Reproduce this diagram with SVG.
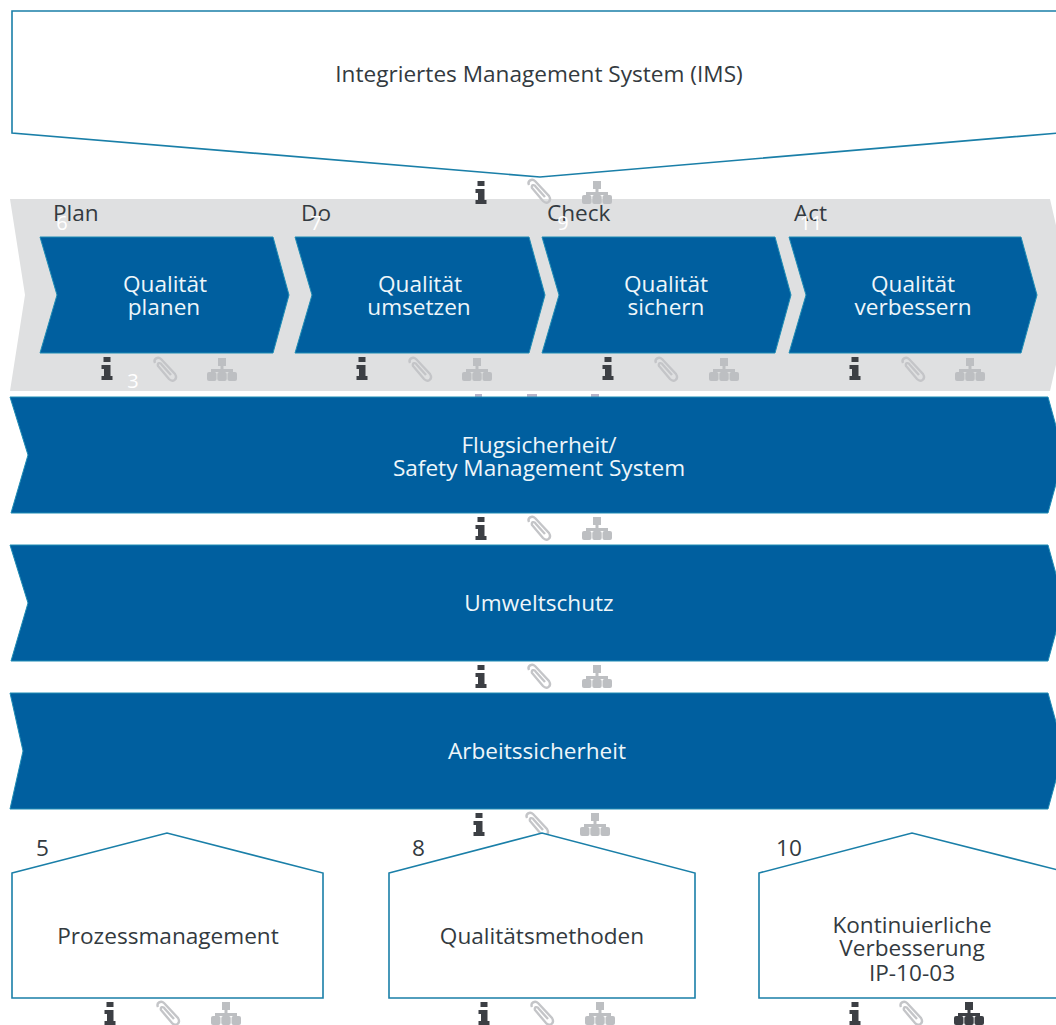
<svg xmlns="http://www.w3.org/2000/svg" width="1056" height="1025" viewBox="0 0 1056 1025">
<style>
text{font-family:"Open Sans","Noto Sans","Liberation Sans",sans-serif;font-size:22.6px;text-anchor:middle}
.d{fill:#333a40}.w{fill:#eef6fa}.n{fill:#fff;font-size:20px}.l{text-anchor:start}
.blue{fill:#005f9f;stroke:#1f8cb4;stroke-width:1}
.house{fill:#fff;stroke:#1a7fa8;stroke-width:1.6}
.off{fill:#bdbfc2}.on{fill:#3c3f44}.peek{fill:#b9b4c9}
</style>
<defs>
<g id="ii"><rect x="-3.500" y="0" width="7" height="5" class="on"/><path d="M-5.500 8H3.500V19H5.500V23H-5.500V19H-3V12H-5.500Z" class="on"/></g>
<g id="ic"><path d="M-10 5C-12 1-7-2-4 1L10 16C13 21 8 25 4 21L-7 8C-8 5-5 4-3 7L6 17" fill="none" stroke="#c4c5c8" stroke-width="2.400"/></g>
<g id="io"><g class="off"><rect x="-4" y="0" width="8" height="8"/><rect x="-1.500" y="8" width="3" height="6"/><rect x="-11" y="11" width="22" height="3"/><rect x="-15" y="14" width="9.500" height="9" rx="2"/><rect x="-4.700" y="14" width="9.400" height="9" rx="2"/><rect x="5.500" y="14" width="9.500" height="9" rx="2"/></g></g>
<g id="iod"><g class="on"><rect x="-4" y="0" width="8" height="8"/><rect x="-1.500" y="8" width="3" height="6"/><rect x="-11" y="11" width="22" height="3"/><rect x="-15" y="14" width="9.500" height="9" rx="2"/><rect x="-4.700" y="14" width="9.400" height="9" rx="2"/><rect x="5.500" y="14" width="9.500" height="9" rx="2"/></g></g>
</defs>
<rect width="1056" height="1025" fill="#fff"/>
<g id="connectors"></g>
<g id="pdca">
<path d="M10 199H1050L1072 295L1050 391H10L25 295Z" fill="#dfe0e1"/>
</g>
<g id="ims">
<path d="M12 11H1070V132L540 177L12 133Z" class="house"/>
<text x="539" y="82" class="d">Integriertes Management System (IMS)</text>
<use href="#ii" x="481" y="181"/><use href="#ic" x="539" y="180"/><use href="#io" x="597" y="181"/>
</g>
<g id="pdca-labels">
<text x="53" y="221" class="d l">Plan</text><text x="301" y="221" class="d l">Do</text><text x="547" y="221" class="d l">Check</text><text x="794" y="221" class="d l">Act</text>
<text x="62" y="230" class="n">6</text><text x="316" y="230" class="n">7</text><text x="563" y="230" class="n">9</text><text x="811" y="230" class="n">11</text><text x="133" y="388" class="n">3</text>
</g>
<g id="plan"><path d="M40 237H273L289 295L273 353H40L57 295Z" class="blue"/><text class="w" x="165" y="292">Qualität</text><text class="w" x="164" y="315">planen</text>
<use href="#ii" x="107" y="357"/><use href="#ic" x="165" y="358"/><use href="#io" x="222" y="358"/></g>
<g id="do"><path d="M295 237H529L545 295L529 353H295L312 295Z" class="blue"/><text class="w" x="420" y="292">Qualität</text><text class="w" x="419" y="315">umsetzen</text>
<use href="#ii" x="362" y="357"/><use href="#ic" x="420" y="358"/><use href="#io" x="477" y="358"/></g>
<g id="check"><path d="M542 237H775L791 295L775 353H542L559 295Z" class="blue"/><text class="w" x="666" y="292">Qualität</text><text class="w" x="666" y="315">sichern</text>
<use href="#ii" x="608" y="357"/><use href="#ic" x="666" y="358"/><use href="#io" x="724" y="358"/></g>
<g id="act"><path d="M789 237H1021L1037 295L1021 353H789L806 295Z" class="blue"/><text class="w" x="913" y="292">Qualität</text><text class="w" x="913" y="315">verbessern</text>
<use href="#ii" x="855" y="357"/><use href="#ic" x="913" y="358"/><use href="#io" x="970" y="358"/></g>
<g id="safety"><rect x="475" y="394" width="7" height="3" class="peek"/><rect x="527" y="394" width="10" height="3" class="peek"/><rect x="591" y="394" width="8" height="3" class="peek"/>
<path d="M10 397H1048L1064 455L1048 513H11L28 455Z" class="blue"/><text class="w" x="539" y="453">Flugsicherheit/</text><text class="w" x="539" y="476">Safety Management System</text>
<use href="#ii" x="481" y="517"/><use href="#ic" x="539" y="517"/><use href="#io" x="597" y="517"/></g>
<g id="umwelt"><path d="M10 545H1048L1064 603L1048 661H11L28 603Z" class="blue"/><text class="w" x="539" y="611">Umweltschutz</text>
<use href="#ii" x="481" y="665"/><use href="#ic" x="539" y="665"/><use href="#io" x="597" y="665"/></g>
<g id="arbeit"><path d="M10 693H1048L1064 751L1048 809H10L23 751Z" class="blue"/><text class="w" x="537" y="759">Arbeitssicherheit</text>
<use href="#ii" x="479" y="813"/><use href="#ic" x="537" y="813"/><use href="#io" x="595" y="813"/></g>
<g id="prozess"><path d="M12 873L167 833L323 873V998H12Z" class="house"/><text x="36" y="856" class="d l">5</text><text x="168" y="944" class="d">Prozessmanagement</text>
<use href="#ii" x="110" y="1002"/><use href="#ic" x="168" y="1002"/><use href="#io" x="226" y="1002"/></g>
<g id="methoden"><path d="M389 873L542 833L695 873V998H389Z" class="house"/><text x="412" y="856" class="d l">8</text><text x="542" y="944" class="d">Qualitätsmethoden</text>
<use href="#ii" x="484" y="1002"/><use href="#ic" x="542" y="1002"/><use href="#io" x="600" y="1002"/></g>
<g id="kvp"><path d="M759 873L912 833L1070 873V998H759Z" class="house"/><text x="776" y="856" class="d l">10</text><text x="912" y="933" class="d">Kontinuierliche</text><text x="912" y="956" class="d">Verbesserung</text><text x="912" y="981" class="d">IP-10-03</text>
<use href="#ii" x="855" y="1002"/><use href="#ic" x="911" y="1002"/><use href="#iod" x="969" y="1002"/></g>
</svg>
